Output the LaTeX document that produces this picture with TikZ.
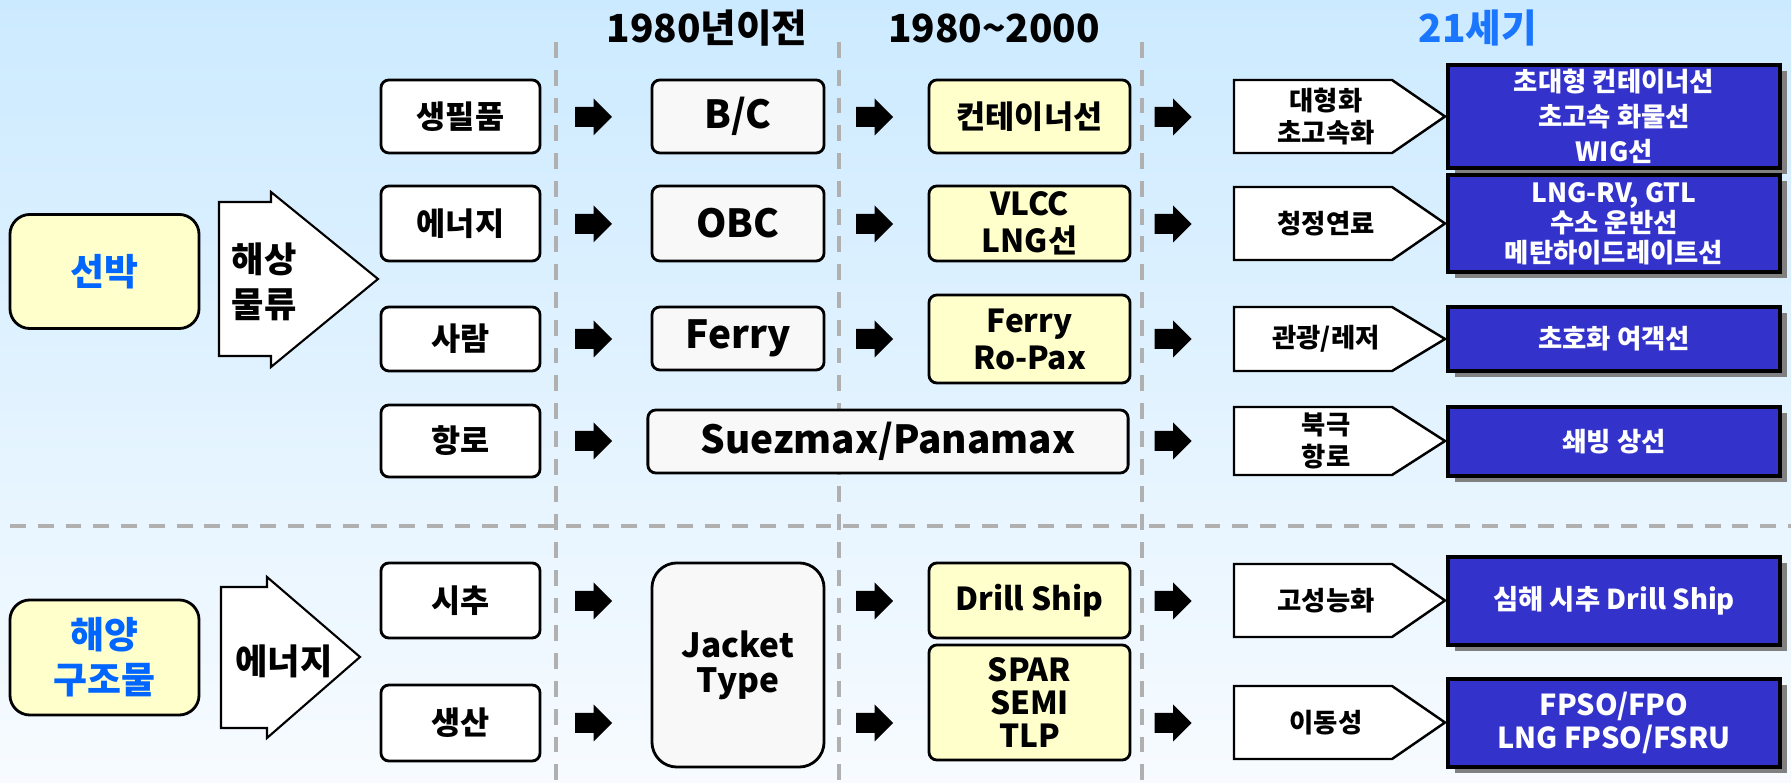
\documentclass[tikz,border=0pt]{standalone}
\usepackage{fontspec}
\setmainfont{Noto Sans CJK KR}
\usepackage{tikz}
\usetikzlibrary{positioning,shadows}

\definecolor{bgtop}{RGB}{204,234,255}
\definecolor{bgmid}{RGB}{232,243,255}
\definecolor{bgbot}{RGB}{247,251,255}
\definecolor{paleyellow}{RGB}{255,255,204}
\definecolor{oldgray}{RGB}{248,248,248}
\definecolor{futblue}{RGB}{51,51,204}
\definecolor{titleblue}{RGB}{26,117,255}
\definecolor{catblue}{RGB}{0,102,255}
\definecolor{gridgray}{RGB}{176,176,176}

\tikzset{
  txt/.style={align=center, inner sep=0pt},
  title/.style={txt, font=\bfseries\fontsize{11}{13}\selectfont},
  grid/.style={draw=gridgray, line width=0.9pt, dash pattern=on 4.5pt off 3.4pt},
  cat/.style={txt, draw, line width=0.8pt, rounded corners=0.2cm, fill=paleyellow,
    minimum width=1.89cm, minimum height=1.14cm, text=catblue,
    font=\bfseries\fontsize{10.5}{12.8}\selectfont},
  bigarrow/.style={draw, line width=0.6pt, fill=white},
  bigtext/.style={txt, font=\bfseries\fontsize{10}{12.8}\selectfont},
  item/.style={txt, draw, line width=0.8pt, rounded corners=0.08cm, fill=white,
    minimum width=1.59cm, font=\bfseries\fontsize{9}{11}\selectfont},
  old/.style={item, fill=oldgray, minimum width=1.72cm,
    font=\bfseries\fontsize{11}{13}\selectfont},
  new/.style={item, fill=paleyellow, minimum width=2.01cm,
    font=\bfseries\fontsize{9}{10.5}\selectfont},
  chev/.style={draw, line width=0.7pt, fill=white},
  chevtext/.style={txt, font=\bfseries\fontsize{7.5}{9}\selectfont},
  fut/.style={txt, draw, line width=1pt, fill=futblue, text=white,
    minimum width=3.32cm, font=\bfseries\fontsize{7.5}{10}\selectfont,
    drop shadow={shadow xshift=0.07cm, shadow yshift=-0.06cm, fill=gray, opacity=1}},
}

\newcommand{\chevron}[4]{%
  \draw[chev] (1234,#2) -- (1392,#2) -- (1445,{(#2+#3)/2}) -- (1392,#3) -- (1234,#3) -- cycle;
  \node[chevtext] (#1) at (1326,{(#2+#3)/2}) {#4};}

\begin{document}
\begin{tikzpicture}[x=0.01cm,y=-0.01cm]
    \useasboundingbox (0,0) rectangle (1791,783);
    \shade[top color=bgtop, middle color=bgmid, bottom color=bgbot] (0,0) rectangle (1791,783);
    %grid
    \draw[grid] (556,42) -- (556,783);
    \draw[grid] (839,42) -- (839,783);
    \draw[grid] (1142,42) -- (1142,783);
    \draw[grid] (10,526) -- (1791,526);
    %titles
    \node[title] (t1) at (707,28) {1980년이전};
    \node[title] (t2) at (994,28) {1980\textasciitilde 2000};
    \node[title, text=titleblue] (t3) at (1478,28) {21세기};
    %categories
    \node[cat] (ship) at (104.5,271.5) {선박};
    \node[cat, minimum height=1.15cm] (ocean) at (104.5,657.5) {해양\\구조물};
    \draw[bigarrow] (219,202) -- (271,202) -- (271,192) -- (378,279) -- (271,367) -- (271,356) -- (219,356) -- cycle;
    \node[bigtext] (flow) at (264,282) {해상\\물류};
    \draw[bigarrow] (221,587) -- (267,587) -- (267,577) -- (360,657) -- (267,738) -- (267,728) -- (221,728) -- cycle;
    \node[bigtext] (power) at (284,661) {에너지};
    %needs
    \node[item, minimum height=0.73cm] (goods) at (460.5,116.5) {생필품};
    \node[item, minimum height=0.75cm] (energy) at (460.5,223.5) {에너지};
    \node[item, minimum height=0.64cm] (people) at (460.5,339) {사람};
    \node[item, minimum height=0.72cm] (route) at (460.5,441) {항로};
    \node[item, minimum height=0.75cm] (drill) at (460.5,600.5) {시추};
    \node[item, minimum height=0.76cm] (prod) at (460.5,723) {생산};
    %before 1980
    \node[old, minimum height=0.73cm] (bc) at (738,116.5) {B/C};
    \node[old, minimum height=0.75cm] (obc) at (738,223.5) {OBC};
    \node[old, minimum height=0.63cm] (ferry) at (738,338.5) {Ferry};
    \node[old, minimum width=4.8cm, minimum height=0.63cm] (suez) at (888,441.5) {Suezmax/Panamax};
    \node[old, minimum height=2.04cm, rounded corners=0.25cm,
      font=\bfseries\fontsize{9.5}{10}\selectfont] (jacket) at (738,665) {Jacket\\Type};
    %1980-2000
    \node[new, minimum height=0.73cm] (cont) at (1029.5,116.5) {컨테이너선};
    \node[new, minimum height=0.75cm] (vlcc) at (1029.5,223.5) {VLCC\\LNG선};
    \node[new, minimum height=0.88cm] (ropax) at (1029.5,339) {Ferry\\Ro-Pax};
    \node[new, minimum height=0.75cm] (dship) at (1029.5,600.5) {Drill Ship};
    \node[new, minimum height=1.15cm, font=\bfseries\fontsize{9}{9.4}\selectfont] (semi) at (1029.5,702.5) {SPAR\\SEMI\\TLP};
    %trends
    \chevron{big}{80}{153}{대형화\\초고속화}
    \chevron{clean}{187}{260}{청정연료}
    \chevron{tour}{307}{371}{관광/레저}
    \chevron{arctic}{407}{475}{북극\\항로}
    \chevron{perf}{564}{637}{고성능화}
    \chevron{mobile}{686}{759}{이동성}
    %21st century
    \node[fut, minimum height=1.03cm] (f1) at (1614,116.5) {초대형 컨테이너선\\초고속 화물선\\WIG선};
    \node[fut, minimum height=0.97cm, font=\bfseries\fontsize{7.5}{8.5}\selectfont] (f2) at (1614,223.5) {LNG-RV, GTL\\수소 운반선\\메탄하이드레이트선};
    \node[fut, minimum height=0.64cm] (f3) at (1614,339) {초호화 여객선};
    \node[fut, minimum height=0.69cm] (f4) at (1614,441.5) {쇄빙 상선};
    \node[fut, minimum height=0.88cm, font=\bfseries\fontsize{7.8}{10}\selectfont] (f5) at (1614,601) {심해 시추 Drill Ship};
    \node[fut, minimum height=0.88cm, font=\bfseries\fontsize{8.2}{8}\selectfont] (f6) at (1614,723) {FPSO/FPO\\LNG FPSO/FSRU};
    %small arrows
    \foreach \x/\y in {593.5/117,593.5/224,593.5/339,593.5/441,593.5/601,593.5/723,
                       874.5/117,874.5/224,874.5/339,874.5/601,874.5/723,
                       1173/117,1173/224,1173/339,1173/441,1173/601,1173/723}
      \fill (\x,\y) ++(-18.5,-10) -- ++(18.5,0) -- ++(0,-8.5) -- ++(18.5,18.5) -- ++(-18.5,18.5) -- ++(0,-8.5) -- ++(-18.5,0) -- cycle;
\end{tikzpicture}
\end{document}
